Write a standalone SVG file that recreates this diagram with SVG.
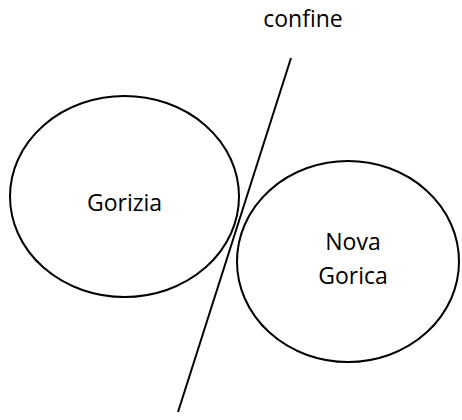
<svg xmlns="http://www.w3.org/2000/svg" width="462" height="420" viewBox="0 0 462 420">
<style>
.n{fill:#fff;stroke:#000;stroke-width:2}
.t{font-family:"Open Sans","Liberation Sans",sans-serif;font-size:23px;fill:#000;text-anchor:middle}
</style>
<rect width="462" height="420" fill="#fff"/>
<g id="Gorizia"><ellipse class="n" cx="124.5" cy="196.5" rx="114.5" ry="100.5"/><text class="t" x="124.5" y="211">Gorizia</text></g>
<g id="NovaGorica"><ellipse class="n" cx="348" cy="261.5" rx="111" ry="100.5"/><text class="t" x="353" y="250">Nova</text><text class="t" x="353" y="284">Gorica</text></g>
<g id="connectors"><line x1="291" y1="58" x2="178" y2="412" stroke="#000" stroke-width="2"/></g>
<g id="confine"><text class="t" x="303" y="27">confine</text></g>
</svg>
